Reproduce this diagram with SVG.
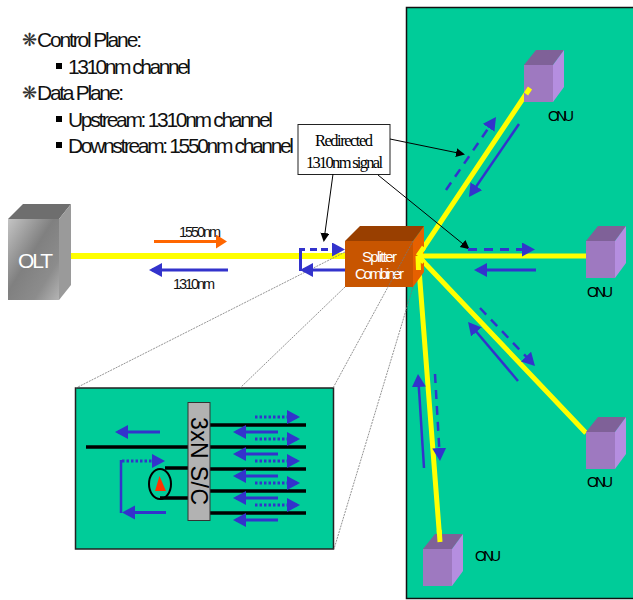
<svg xmlns="http://www.w3.org/2000/svg" width="633" height="600" viewBox="0 0 633 600">
<style>
text{font-family:"Liberation Sans",Arial,sans-serif;fill:#000}
.h{font-size:21px;fill:#111}
.star{font-family:"DejaVu Sans",sans-serif;font-size:18px;fill:#333}
.onu{font-size:14.500px}
.lab{font-size:14.500px;fill:#111}
.ser{font-family:"Liberation Serif","Times New Roman",serif;font-size:16.500px}
.w{fill:#fff}
.y{stroke:#ffff00;stroke-width:5;fill:none}
.blue{stroke:#3333cc;stroke-width:3;fill:none;marker-end:url(#bh)}
.thin{stroke-width:2.500}
.dash{stroke-dasharray:9 7}
.dot{stroke-dasharray:2.500 2}
.or{stroke:#ff6600;stroke-width:3;fill:none;marker-end:url(#oh)}
.lead{stroke:#000;stroke-width:1;fill:none;marker-end:url(#kh)}
.guide{stroke:#777;stroke-width:.8;stroke-dasharray:2 1;fill:none}
.bk{stroke:#000;stroke-width:3.500;fill:none}
.cf{fill:#9e79c0}.ct{fill:#7f6198}.cr{fill:#b58ee0}
</style>
<defs>
<marker id="bh" markerUnits="userSpaceOnUse" markerWidth="14" markerHeight="15" refX="10" refY="7" orient="auto"><path d="M0 0L13 7 0 14z" fill="#3333cc"/></marker>
<marker id="oh" markerUnits="userSpaceOnUse" markerWidth="14" markerHeight="15" refX="8" refY="7" orient="auto"><path d="M0 0L11 7 0 14z" fill="#ff6600"/></marker>
<marker id="kh" markerUnits="userSpaceOnUse" markerWidth="10" markerHeight="12" refX="7" refY="4.500" orient="auto"><path d="M0 0L9 4.500 0 9z" fill="#000"/></marker>
<linearGradient id="m" x1="0" y1="0" x2="1" y2="1"><stop offset="0" stop-color="#c4c4c4"/><stop offset=".45" stop-color="#808080"/><stop offset=".75" stop-color="#8c8c8c"/><stop offset="1" stop-color="#b4b4b4"/></linearGradient>
</defs>
<rect x="0" y="0" width="633" height="600" fill="#fff"/>
<rect id="panel" x="406.500" y="7.500" width="230" height="591" fill="#00cc99" stroke="#111" stroke-width="1.500"/>
<g id="bullets">
<text class="star" x="22" y="46">❋</text>
<text class="h" x="37" y="47" textLength="105" lengthAdjust="spacing">Control Plane:</text>
<rect x="56" y="63" width="6" height="6"/>
<text class="h" x="68" y="74" textLength="123" lengthAdjust="spacing">1310nm channel</text>
<text class="star" x="22" y="99">❋</text>
<text class="h" x="37" y="100" textLength="87" lengthAdjust="spacing">Data Plane:</text>
<rect x="56" y="116" width="6" height="6"/>
<text class="h" x="68" y="127" textLength="205" lengthAdjust="spacing">Upstream: 1310nm channel</text>
<rect x="56" y="142" width="6" height="6"/>
<text class="h" x="68" y="153" textLength="226" lengthAdjust="spacing">Downstream: 1550nm channel</text>
</g>
<g id="fibers">
<path class="y" style="stroke-width:6" d="M64 256H345"/>
<path class="y" d="M418 256L530 88M418 256H586M418 256L586 433M418 256L440 542"/>
</g>
<g id="olt">
<path d="M8 219L23 204H71L59 219z" fill="#6e6e6e"/>
<path d="M59 219L71 204V285L59 300z" fill="#9a9a9a"/>
<rect x="8" y="219" width="51" height="81" fill="url(#m)"/>
<text class="w" x="18" y="268" font-size="21" textLength="35" lengthAdjust="spacing">OLT</text>
</g>
<g id="splitter">
<path d="M424 226V272L413 287V241z" fill="#e66000"/>
<path d="M345 241L360 226H424L413 241z" fill="#993f00"/>
<rect x="345" y="241" width="68" height="46" fill="#c85500"/>
<text class="w" x="362" y="262" font-size="15" textLength="35" lengthAdjust="spacing">Splitter</text>
<text class="w" x="355" y="279" font-size="15" textLength="49" lengthAdjust="spacing">Combiner</text>
<path class="y" d="M418 256L424 247.100M418 256H424M418 256L424 262.300M418 256L418.500 270"/>
</g>
<g id="onu1"><path class="ct" d="M524 65L536 50H564L553 65z"/><path class="cr" d="M553 65L564 50V87L553 102z"/><rect class="cf" x="524" y="65" width="29" height="37"/><text class="onu" x="548" y="121" textLength="26" lengthAdjust="spacing">ONU</text></g>
<g id="onu2"><path class="ct" d="M586 241L598 226H626L615 241z"/><path class="cr" d="M615 241L626 226V263L615 278z"/><rect class="cf" x="586" y="241" width="29" height="37"/><text class="onu" x="587" y="297" textLength="26" lengthAdjust="spacing">ONU</text></g>
<g id="onu3"><path class="ct" d="M586 432L598 417H626L615 432z"/><path class="cr" d="M615 432L626 417V454L615 469z"/><rect class="cf" x="586" y="432" width="29" height="37"/><text class="onu" x="587" y="487" textLength="26" lengthAdjust="spacing">ONU</text></g>
<g id="onu4"><path class="ct" d="M423 549L435 534H463L452 549z"/><path class="cr" d="M452 549L463 534V571L452 586z"/><rect class="cf" x="423" y="549" width="29" height="37"/><text class="onu" x="475" y="561" textLength="26" lengthAdjust="spacing">ONU</text></g>
<path class="y" d="M530 88L526 94M439.200 530L440 542"/>
<g id="callout">
<rect x="298" y="124.500" width="92" height="50" fill="#fff" stroke="#222" stroke-width="1"/>
<text class="ser" x="315" y="146" textLength="58" lengthAdjust="spacing">Redirected</text>
<text class="ser" x="306" y="168" textLength="77" lengthAdjust="spacing">1310nm signal</text>
</g>
<g id="inset">
<rect x="75.500" y="388" width="258" height="161" fill="#00cc99" stroke="#222" stroke-width="1.500"/>
<path class="bk" d="M86 447H188M210 425H306M210 447H306M210 469H306M210 491H306M210 513H306M165 468H188M160 498H188"/>
<ellipse cx="160" cy="484" rx="11" ry="15" fill="none" stroke="#000" stroke-width="2"/>
<path d="M159.500 476L166 491H155z" fill="#ff3300"/>
<rect x="188" y="402.500" width="22" height="118" fill="#b2b2b2" stroke="#333" stroke-width="1"/>
<text transform="translate(191 417) rotate(90)" font-size="23" textLength="88" lengthAdjust="spacing">3xN S/C</text>
</g>
<g id="connectors">
<path class="guide" d="M345 252L76 388M345 287L240 388M413 241L333 388M413 287L334 549"/>
<path class="or" d="M154 241.500H224"/>
<path class="blue" d="M228 270H152"/>
<path class="blue" d="M345 270H303"/>
<path d="M300.500 271V249.500H305" stroke="#3333cc" stroke-width="3" fill="none"/>
<path class="blue dash" d="M310 249.500H342" style="stroke-dasharray:7 4"/>
<path class="lead" d="M333 174L324 240"/>
<path class="lead" d="M390 139L463 154"/>
<path class="lead" d="M378 175L468 248"/>
<path class="blue thin dash" d="M446 190L494.300 119.500"/>
<path class="blue thin" d="M519 124L470.700 194.500"/>
<path class="blue dash" d="M468 249.500H532"/>
<path class="blue" d="M536 270H477"/>
<path class="blue thin dash" d="M480 308L532.900 363.800"/>
<path class="blue thin" d="M518 381L470 324.300"/>
<path class="blue thin" d="M424 468L418.200 377"/>
<path class="blue thin dash" d="M435 374L439.800 458"/>
<path class="blue" d="M160 432H118"/>
<path class="blue dot" d="M122 461H162"/>
<path d="M121 460V513" stroke="#3333cc" stroke-width="2.500" fill="none"/>
<path class="blue" d="M166 512.500H125"/>
<g>
<path class="blue dot" d="M255 417H297"/><path class="blue dot" d="M255 439H297"/><path class="blue dot" d="M255 461H297"/><path class="blue dot" d="M255 483H297"/><path class="blue dot" d="M255 505H297"/>
<path class="blue" d="M278 432H236"/><path class="blue" d="M278 454H236"/><path class="blue" d="M278 476H236"/><path class="blue" d="M278 498H236"/><path class="blue" d="M278 520H236"/>
</g>
</g>
<g id="labels">
<text class="lab" x="179" y="237" textLength="42" lengthAdjust="spacing">1550nm</text>
<text class="lab" x="173" y="289" textLength="42" lengthAdjust="spacing">1310nm</text>
</g>
</svg>
